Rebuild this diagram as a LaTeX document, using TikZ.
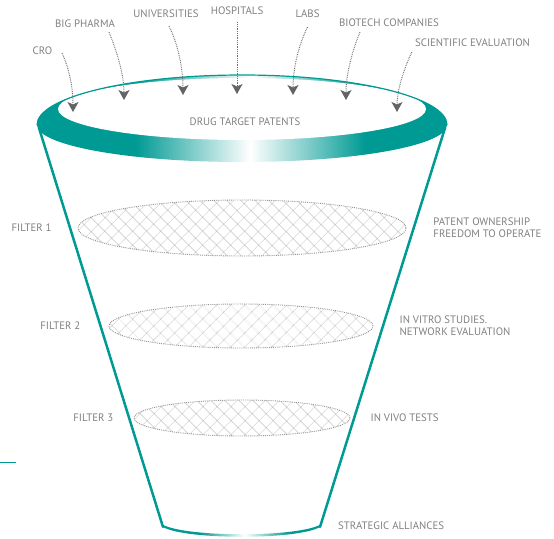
\documentclass[tikz,border=0pt]{standalone}
\usepackage{fontspec}
\setmainfont{PT Sans}
\usetikzlibrary{positioning, shapes.geometric, patterns.meta, arrows.meta}

\definecolor{rim}{RGB}{0,154,148}
\definecolor{ink}{RGB}{128,128,128}
\definecolor{dots}{RGB}{112,112,112}
\definecolor{tip}{RGB}{100,100,102}

% Rim shading: teal at the sides, white highlight near the middle
\pgfdeclarehorizontalshading{rimshade}{100bp}{color(0bp)=(rim); color(25bp)=(rim); color(37bp)=(rim); color(51bp)=(white); color(65bp)=(rim); color(75bp)=(rim); color(100bp)=(rim)}

\begin{document}
\begin{tikzpicture}[x = 1pt, y = -1pt,
	> = {Stealth[length = 10pt, width = 11pt, inset = 2.5pt, color = tip]},
	tag/.style = {text = ink, inner sep = 0pt, font = \fontsize{10.8}{12}\selectfont},
	feed/.style = {->, dots, line width = 1pt, dash pattern = on 0.8pt off 1pt},
	funnel/.style = {rim, line width = 2.5pt, line cap = round},
	filter/.style = {ellipse, inner sep = 0pt, draw = black!42, line width = 0.9pt,
		dash pattern = on 0.9pt off 1pt, pattern color = black!32,
		pattern = {Hatch[angle = 45, distance = 10.5pt, line width = 0.45pt]}}]

	\useasboundingbox (0,0) rectangle (554,538);

	% Funnel sides
	
	\draw [funnel] (39,128) -- (163,527);
	\draw [funnel] (445,128) -- (320,527);
	
	% Bottom of the funnel
	
	\shade [shading = rimshade] (163,527) .. controls (185,540) and (298,540) .. (320,527) -- (320.5,524.5) .. controls (298,537.5) and (185,537.5) .. (162.5,524.5) -- cycle;
	
	% Rim of the funnel
	
	\shade [shading = rimshade] (37,125) arc [start angle = 180, end angle = 360, x radius = 205, y radius = 50] arc [start angle = 0, end angle = 180, x radius = 205, y radius = 37] -- cycle;
	\fill [white] (242,109) ellipse [x radius = 184, y radius = 31];
	\draw [rim, line width = 1.2pt] (37,125) arc [start angle = 180, end angle = 360, x radius = 205, y radius = 50];
	
	\node [tag] (patents) at (245,122) {DRUG TARGET PATENTS};
	
	% Sources feeding the funnel
	
	\node [tag] (cro) at (42.5,51) {CRO};
	\node [tag] (pharma) at (85,24) {BIG PHARMA};
	\node [tag] (univ) at (166,14) {UNIVERSITIES};
	\node [tag] (hosp) at (237,11) {HOSPITALS};
	\node [tag] (labs) at (307.5,14) {LABS};
	\node [tag] (biotech) at (389,23) {BIOTECH COMPANIES};
	\node [tag] (sci) at (472.5,43) {SCIENTIFIC EVALUATION};
	
	\coordinate (cro-in) at (73,112);
	\coordinate (pharma-in) at (124,100);
	\coordinate (univ-in) at (183,95);
	\coordinate (hosp-in) at (237,94);
	\coordinate (labs-in) at (293,95);
	\coordinate (biotech-in) at (346,100);
	\coordinate (sci-in) at (397,112);
	
	\draw [feed] ([shift = {(19.5,-2)}] cro.south) .. controls +(8,17) and +(0,-22) .. (cro-in);
	\draw [feed] ([shift = {(24,4)}] pharma.south) .. controls +(9,22) and +(0,-24) .. (pharma-in);
	\draw [feed] ([shift = {(3,8)}] univ.south) .. controls +(10,20) and +(0,-24) .. (univ-in);
	\draw [feed] ([shift = {(0,7)}] hosp.south) -- (hosp-in);
	\draw [feed] ([shift = {(0,9)}] labs.south) .. controls +(-10,20) and +(0,-24) .. (labs-in);
	\draw [feed] ([shift = {(-29,5)}] biotech.south) .. controls +(-9,22) and +(0,-24) .. (biotech-in);
	\draw [feed] ([shift = {(-3,9)}] sci.west) .. controls +(-8,17) and +(0,-22) .. (sci-in);
	
	% Filters
	
	\node [filter, minimum width = 328pt, minimum height = 56pt] (filter1) at (242,228) {};
	\node [filter, minimum width = 264pt, minimum height = 44pt] (filter2) at (241,326) {};
	\node [filter, minimum width = 216pt, minimum height = 36pt] (filter3) at (242,418) {};
	
	\node [tag, left = 26pt of filter1] (f1) {FILTER 1};
	\node [tag, left = 28pt of filter2] (f2) {FILTER 2};
	\node [tag, left = 20pt of filter3] (f3) {FILTER 3};
	
	\node [tag, right = 27pt of filter1, align = left] (ownership) {PATENT OWNERSHIP\\FREEDOM TO OPERATE};
	\node [tag, right = 26pt of filter2, align = left] (vitro) {IN VITRO STUDIES.\\NETWORK EVALUATION};
	\node [tag, right = 20pt of filter3] (vivo) {IN VIVO TESTS};
	\node [tag, anchor = west] (alliances) at (338,526) {STRATEGIC ALLIANCES};
	
	% Short mark on the left edge
	
	\draw [rim, line width = 1pt] (0,462) -- (16,462);
	
\end{tikzpicture}
\end{document}
